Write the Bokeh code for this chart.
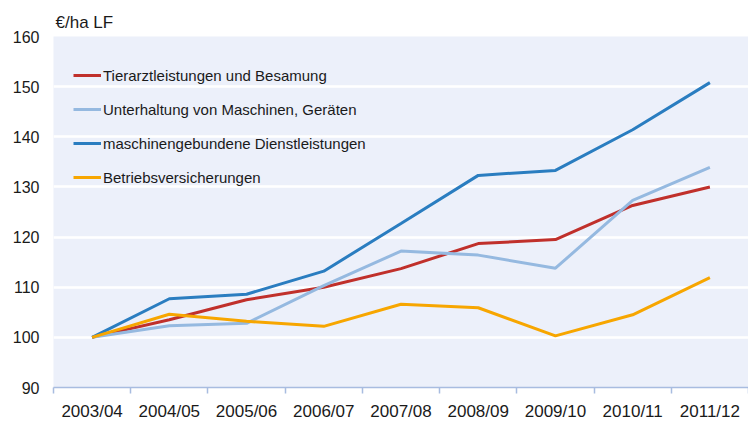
from bokeh.plotting import figure
from bokeh.models import FixedTicker, Range1d, Legend, LegendItem
from bokeh.embed import file_html
from bokeh.resources import INLINE

categories = ["2003/04", "2004/05", "2005/06", "2006/07", "2007/08", "2008/09", "2009/10", "2010/11", "2011/12"]
tierarzt = [100, 103.5, 107.5, 110.0, 113.7, 118.7, 119.5, 126.3, 130.0]
unterhaltung = [100, 102.3, 102.8, 110.3, 117.2, 116.4, 113.8, 127.3, 133.9]
dienstleistungen = [100, 107.7, 108.6, 113.2, 122.7, 132.3, 133.3, 141.4, 150.8]
versicherungen = [100, 104.6, 103.2, 102.2, 106.6, 105.9, 100.3, 104.5, 111.9]
series_names = ["Tierarztleistungen und Besamung", "Unterhaltung von Maschinen, Geräten",
                "maschinengebundene Dienstleistungen", "Betriebsversicherungen"]
y_ticks = [90, 100, 110, 120, 130, 140, 150, 160]

colors = ["#c0302b", "#95b9e0", "#2a7dc0", "#f7a600"]
FONT = "Liberation Sans"

xs = list(range(len(categories)))

p = figure(width=748, height=423, output_backend="svg", toolbar_location=None,
           x_range=Range1d(-0.5, len(categories) - 0.5), y_range=Range1d(90, 160),
           min_border_left=53, min_border_right=0, min_border_top=36, min_border_bottom=34,
           title="€/ha LF")
p.background_fill_color = "#ecf0fa"
p.border_fill_color = "white"
p.outline_line_color = None

p.title.text_font = FONT
p.title.text_font_size = "17px"
p.title.text_font_style = "normal"
p.title.text_color = "#1a1a1a"
p.title.align = "left"
p.title.offset = 2
p.title.standoff = 10

renderers = []
for vals, c in zip([tierarzt, unterhaltung, dienstleistungen, versicherungen], colors):
    r = p.line(xs, vals, line_color=c, line_width=3)
    renderers.append(r)

# x axis
p.xaxis.ticker = FixedTicker(ticks=xs, minor_ticks=[i - 0.5 for i in range(len(categories) + 1)])
p.xaxis.major_label_overrides = {i: c for i, c in enumerate(categories)}
p.xaxis.major_tick_out = 0
p.xaxis.major_tick_in = 0
p.xaxis.minor_tick_out = 6
p.xaxis.minor_tick_in = 0
p.xaxis.minor_tick_line_color = "#a8bce0"
p.xaxis.minor_tick_line_width = 1.5
p.xaxis.axis_line_color = "#a8bce0"
p.xaxis.axis_line_width = 1.5
p.xaxis.major_label_text_font = FONT
p.xaxis.major_label_text_font_size = "17px"
p.xaxis.major_label_text_color = "#1a1a1a"
p.xaxis.major_label_standoff = 8

# y axis
p.yaxis.ticker = FixedTicker(ticks=y_ticks)
p.yaxis.axis_line_color = None
p.yaxis.major_tick_line_color = None
p.yaxis.minor_tick_line_color = None
p.yaxis.major_tick_out = 0
p.yaxis.major_label_text_font = FONT
p.yaxis.major_label_text_font_size = "16px"
p.yaxis.major_label_text_color = "#1a1a1a"
p.yaxis.major_label_standoff = 14

p.xgrid.grid_line_color = None
p.ygrid.grid_line_color = "white"
p.ygrid.grid_line_width = 2.5

legend = Legend(items=[LegendItem(label=n, renderers=[r]) for n, r in zip(series_names, renderers)],
                location=(20, 200))
legend.background_fill_alpha = 0
legend.border_line_color = None
legend.padding = 0
legend.margin = 0
legend.spacing = 14
legend.label_height = 20
legend.glyph_height = 20
legend.glyph_width = 28
legend.label_standoff = 2
legend.label_text_font = FONT
legend.label_text_font_size = "15px"
legend.label_text_color = "#1a1a1a"
p.add_layout(legend, "center")

open("out.html", "w").write(file_html(p, INLINE))
